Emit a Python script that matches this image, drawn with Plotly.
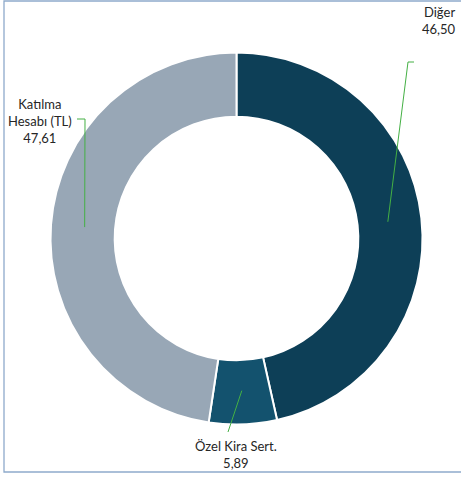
import math
import plotly.graph_objects as go

categories = ["Diğer", "Özel Kira Sert.", "Katılma Hesabı (TL)"]
values = [46.50, 5.89, 47.61]
value_labels = ["46,50", "5,89", "47,61"]
label_texts = ["Diğer<br>46,50", "Özel Kira Sert.<br>5,89", "Katılma<br>Hesabı (TL)<br>47,61"]
colors = ["#0d3f57", "#13526e", "#98a7b6"]

W, H = 461, 477
cx, cy = 236.5, 238.5      # pixel center (from top)
R = 186                    # domain half-size (plotly insets slightly)
R_vis = 184
hole = 0.655

fig = go.Figure()
fig.add_trace(go.Pie(
    labels=categories, values=values, sort=False, direction="clockwise",
    rotation=0, hole=hole, textinfo="none", hoverinfo="label+value",
    marker=dict(colors=colors, line=dict(color="white", width=2)),
    domain=dict(x=[(cx - R) / W, (cx + R) / W], y=[(H - cy - R) / H, (H - cy + R) / H]),
    showlegend=False,
))

def px(x):
    return x / W

def py(y):
    return 1 - y / H

# leader line elbows / ends (pixel coords) and label placement
elbows = [[(408, 62), (414, 62)], [(228, 432)], [(85, 119), (77, 119)]]
label_pos = [(458, 21, "right"), (236, 454, "center"), (40, 121, "center")]

total = sum(values)
cum = 0
r_mid = R_vis * (1 + hole) / 2
shapes = []
for i, v in enumerate(values):
    a = (cum + v / 2) / total * 2 * math.pi
    cum += v
    ax = cx + r_mid * math.sin(a)
    ay = cy - r_mid * math.cos(a)
    pts = [(ax, ay)] + elbows[i]
    path = "M " + " L ".join(f"{px(x)},{py(y)}" for x, y in pts)
    shapes.append(dict(type="path", path=path, xref="paper", yref="paper",
                       line=dict(color="#44b044", width=1)))

shapes.append(dict(type="rect", xref="paper", yref="paper",
                   x0=px(4), x1=px(470), y0=py(472), y1=py(1),
                   line=dict(color="#8eaacb", width=1.3)))

annotations = []
for i, t in enumerate(label_texts):
    x, y, al = label_pos[i]
    annotations.append(dict(text=t, x=px(x), y=py(y), xref="paper", yref="paper",
                            showarrow=False, xanchor=al, yanchor="middle", align=al,
                            font=dict(size=13, color="#262626", family="Lato")))

fig.update_layout(
    width=W, height=H, margin=dict(l=0, r=0, t=0, b=0),
    paper_bgcolor="white", plot_bgcolor="white",
    shapes=shapes, annotations=annotations,
)
fig.write_html("out.html", config={"displayModeBar": False},
               post_script="document.body.style.margin='0';document.body.style.overflow='hidden';")
